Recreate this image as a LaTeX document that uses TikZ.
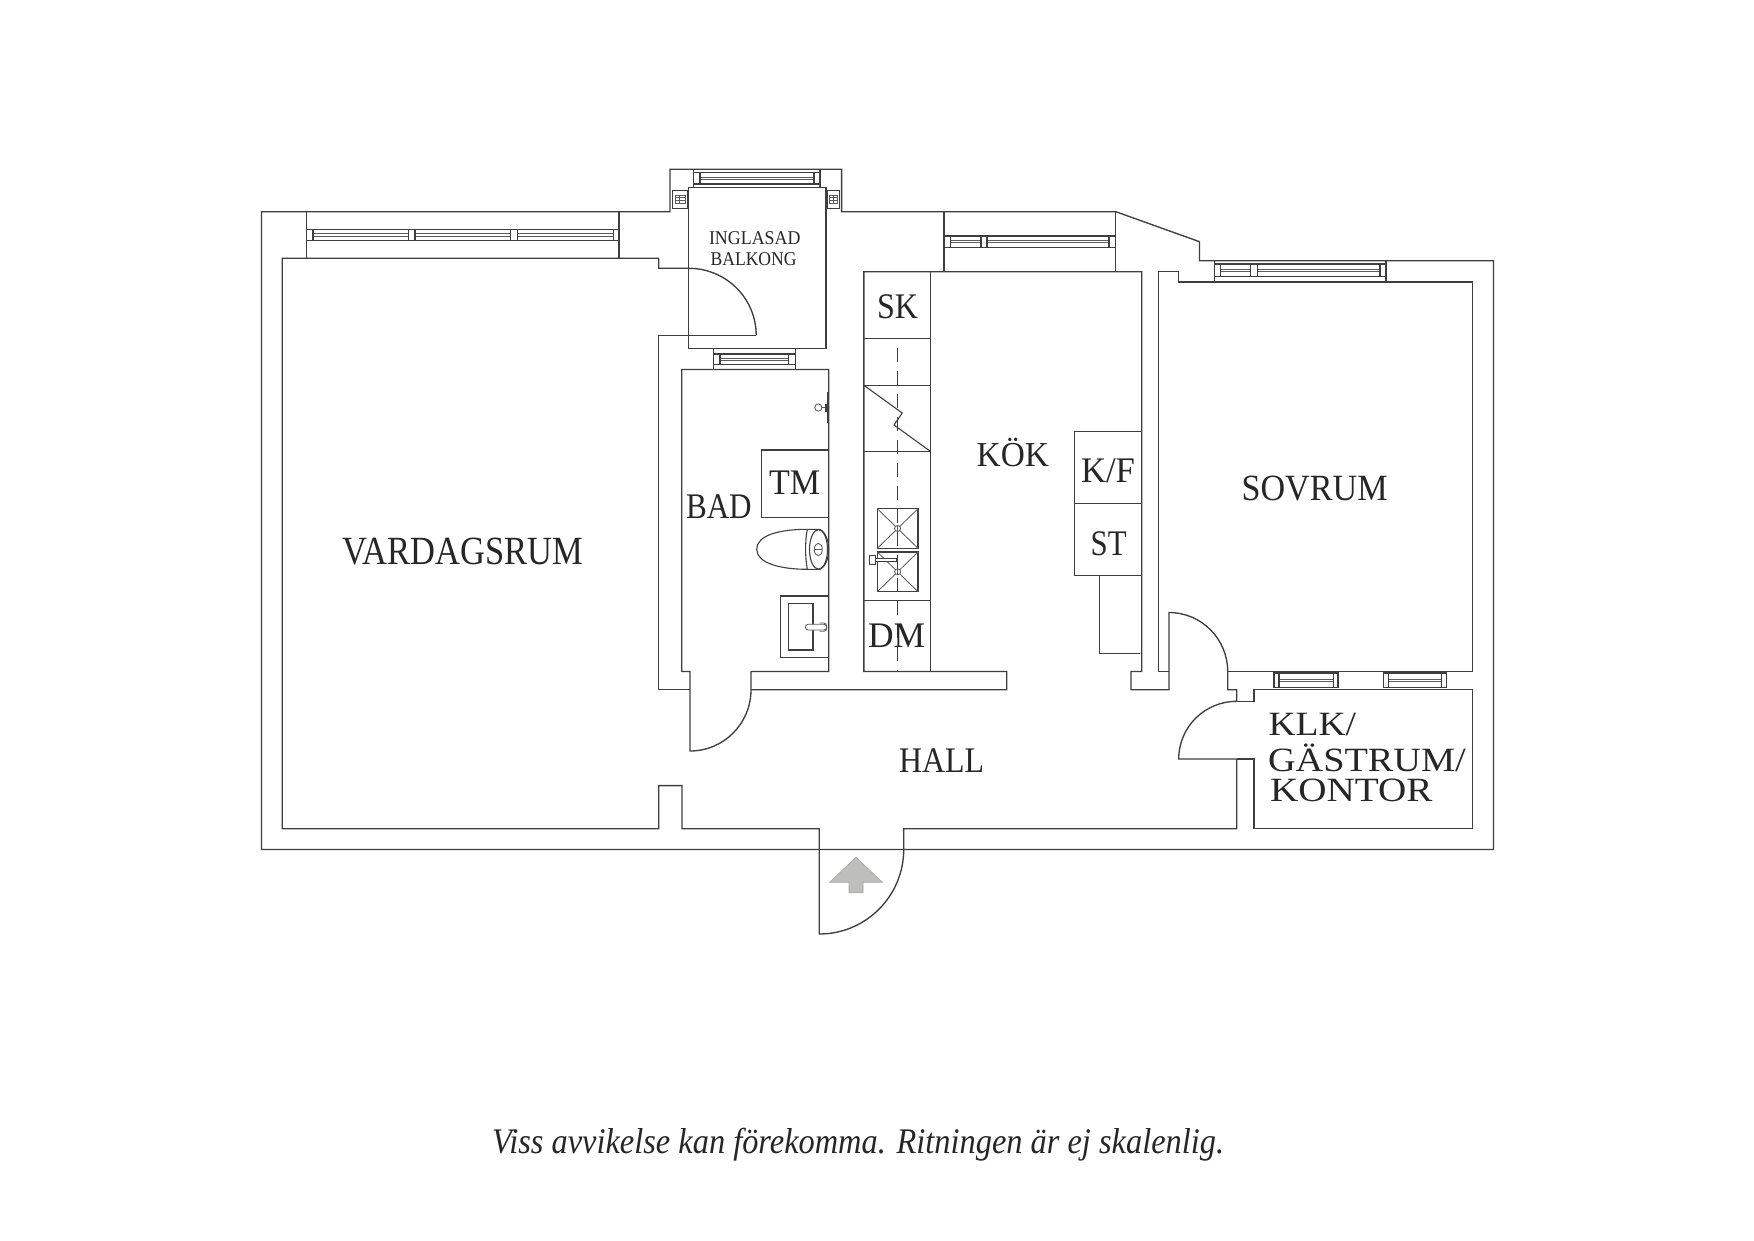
\documentclass[tikz,border=0pt]{standalone}
\usepackage{graphicx}
\usepackage{fontspec}
\setmainfont{Liberation Serif}
\tikzset{
  wall/.style={draw=wallc,line width=1.35pt,line join=miter},
  fix/.style={draw=wallc,line width=1.1pt,line join=miter},
  thin fix/.style={draw=wallc!85,line width=.85pt},
  labelnode/.style={anchor=base west,inner sep=0pt,outer sep=0pt,text=black!85}
}
\definecolor{wallc}{HTML}{3F3F3F}
\definecolor{arrowc}{HTML}{BEBEBC}
\newcommand{\lab}[6]{\node[labelnode] (#1) at (#2,#3) {\fontsize{#5}{#5}\selectfont\resizebox{#4pt}{\height}{#6}};}
% horizontal window band: x0 x1 ytop ybot
\newcommand{\hwin}[4]{%
  \draw[fix] (#1,#3) rectangle (#2,#4);
  \pgfmathsetmacro{\ma}{(#3+#4)/2-1.1}\pgfmathsetmacro{\mb}{(#3+#4)/2+1.1}
  \draw[thin fix] (#1,\ma) -- (#2,\ma) (#1,\mb) -- (#2,\mb);}
\newcommand{\mull}[4]{\filldraw[fix,fill=white] (#1,#3) rectangle (#2,#4);}
\begin{document}
\begin{tikzpicture}[x=1pt,y=-1pt]
\path[use as bounding box,fill=white] (0,0) rectangle (1754,1240);
% outer shell
\draw[wall] (261.5,211.7) -- (670,211.7) -- (670,169.3) -- (841.6,169.3) -- (841.6,211.7) -- (1115.8,211.7) -- (1199.5,241.7) -- (1199.5,260.7) -- (1493.5,260.7) -- (1493.5,849.5) -- (261.5,849.5) -- cycle;
% living room, hall, bedroom, kitchen outline
\draw[wall] (756.2,335.4) -- (658.8,335.4) -- (658.8,689.7) -- (690,689.7);
\draw[wall] (658.8,258.3) -- (658.8,268.3) -- (688.7,268.3) .. controls (726,268.3) and (756.2,298.2) .. (756.2,335.4);
\draw[wall] (658.8,258.3) -- (282.3,258.3) -- (282.3,828.8) -- (658.7,828.8) -- (658.7,785.6) -- (682,785.6) -- (682,828.8) -- (819.3,828.8) -- (819.3,934)
   .. controls (865.9,934) and (903.7,896) .. (903.7,849.5) -- (903.7,828.8) -- (1236.7,828.8) -- (1236.7,759) -- (1178.7,759)
   .. controls (1178.7,727) and (1204.7,701.3) .. (1236.7,701.3) -- (1236.7,689.7) -- (1227.7,689.7) -- (1227.7,671.5)
   .. controls (1227.7,639) and (1201.4,612.5) .. (1169,612.5) -- (1169,689.7) -- (1131,689.7) -- (1131,671.5) -- (1141.7,671.5) -- (1141.7,271.7) -- (863.9,271.7) -- (863.9,671.5) -- (1006.7,671.5) -- (1006.7,689.7) -- (751,689.7);
% bathroom door and room
\draw[wall] (751,689.7) -- (751,671.5) -- (828.7,671.5) -- (828.7,369.5) -- (681.7,369.5) -- (681.7,671.5) -- (690,671.5) -- (690,751)
   .. controls (723.7,751) and (751,723.5) .. (751,689.7);
% bedroom
\draw[wall] (1169,671.5) -- (1158.7,671.5) -- (1158.7,271.7) -- (1178.3,271.7) -- (1178.3,282) -- (1472.7,282) -- (1472.7,671.5) -- (1227.7,671.5);
% small room
\draw[wall] (1236.7,701.3) -- (1254,701.3) -- (1254,689.7) -- (1472.5,689.7) -- (1472.5,828.5) -- (1254,828.5) -- (1254,759) -- (1236.7,759);
% balcony
\draw[wall] (688.5,211.7) -- (688.5,187.3) -- (826,187.3) -- (826,211.7);
\draw[wall] (688.5,211.7) -- (688.5,348.7) -- (826,348.7) -- (826,211.7);
% reveal lines
\draw[fix] (306.4,211.7) -- (306.4,258.3) (619,211.7) -- (619,258.3);
\draw[fix] (944,211.7) -- (944,271.7) (1115.8,211.7) -- (1115.8,271.7);
\draw[fix] (1214.3,260.7) -- (1214.3,282) (1386,260.7) -- (1386,282);
\draw[fix] (693.5,169.3) -- (693.5,187.3) (820,169.3) -- (820,187.3);
\draw[fix] (713.4,348.7) -- (713.4,369.5) (795.3,348.7) -- (795.3,369.5);
% windows
\hwin{306.4}{619}{229.3}{240.7}
\mull{306.4}{313}{229.3}{240.7}\mull{408.4}{415}{229.3}{240.7}\mull{510.8}{517.4}{229.3}{240.7}\mull{613.2}{619}{229.3}{240.7}
\hwin{944.5}{1115.4}{236}{247.3}
\mull{944.5}{950.6}{236}{247.3}\mull{981}{987}{236}{247.3}\mull{1109}{1115.4}{236}{247.3}
\hwin{1214.3}{1386}{264}{276.7}
\mull{1214.3}{1220.8}{264}{276.7}\mull{1250.7}{1257.2}{264}{276.7}\mull{1380}{1386}{264}{276.7}
\hwin{693.5}{820}{172.7}{184}
\mull{693.5}{700}{172.7}{184}\mull{814}{820}{172.7}{184}
\hwin{713.4}{795.3}{354}{364.3}
\mull{713.4}{720}{354}{364.3}\mull{788.5}{795.3}{354}{364.3}
\hwin{1274}{1338}{673}{687.5}
\mull{1274}{1279}{673}{687.5}\mull{1333.5}{1338}{673}{687.5}
\hwin{1383.3}{1446.7}{673}{687.5}
\mull{1383.3}{1388.3}{673}{687.5}\mull{1441.7}{1446.7}{673}{687.5}
% side windows of the balcony
\foreach \xa/\xb/\xc/\xd/\xe in {672.7/687.3/675/685/679.7, 827.3/839.5/829.5/837.5/833.3}{
  \draw[fix] (\xa,190.7) rectangle (\xb,208.3);
  \draw[thin fix] (\xc,195) rectangle (\xd,203.3);
  \draw[thin fix] (\xc,197.7) -- (\xd,197.7) (\xc,200.7) -- (\xd,200.7) (\xe,195) -- (\xe,203.3);
}
% kitchen counter
\draw[fix] (930.8,271.7) -- (930.8,671.5);
\draw[fix] (863.9,338.3) -- (930.8,338.3) (863.9,385.3) -- (930.8,385.3) (863.9,451.7) -- (930.8,451.7) (863.9,600.5) -- (930.8,600.5);
\draw[fix] (864.2,385.5) -- (902.2,413) -- (894,425) -- (930.6,451.5);
\draw[fix,dash pattern=on 14pt off 9pt] (897.3,348.3) -- (897.3,671.5);
% hob
\foreach \ya/\yb/\yc in {508.7/548.3/528.5,552/591.7/571.8}{
  \draw[fix] (877.3,\ya) rectangle (918,\yb);
  \draw[thin fix] (877.3,\ya) -- (918,\yb) (918,\ya) -- (877.3,\yb);
  \filldraw[thin fix,fill=white] (897.6,\yc) circle[radius=3pt];
  \draw[thin fix] (897.6,\yc-3) -- (897.6,\yc+3);
}
% kitchen tap
\filldraw[fix,fill=white] (869.3,555.5) rectangle (875.5,564.5);
\filldraw[fix,fill=white] (875.5,558.3) rectangle (897,561.3);
% fridge, oven, recess
\draw[fix] (1074.3,431.3) rectangle (1141.7,575.7) (1074.3,503.3) -- (1141.7,503.3);
\draw[fix] (1099.7,575.7) -- (1099.7,653.5) -- (1140,653.5);
% washer box
\draw[fix] (828.7,450) -- (761.7,450) -- (761.7,517.3) -- (828.7,517.3);
% toilet
\draw[fix] (807.3,529.3) .. controls (780,529.3) and (756.7,535) .. (756.7,549.3) .. controls (756.7,563) and (780,569.3) .. (807.3,569.3) .. controls (805,556) and (805,542) .. (807.3,529.3);
\draw[fix] (807.3,529.3) -- (820,529.3) .. controls (825,532) and (828.7,540) .. (828.7,549.3) .. controls (828.7,559) and (825,567) .. (820,569.3) -- (807.3,569.3);
\draw[fix] (818.5,549.4) ellipse[x radius=9pt,y radius=19.8pt];
\draw[thin fix] (818.3,549.5) ellipse[x radius=4pt,y radius=6.2pt];
\draw[thin fix] (814.3,549.5) -- (822.3,549.5);
% basin
\draw[fix] (828.7,596) -- (780.3,596) -- (780.3,657.7) -- (828.7,657.7);
\draw[fix] (788.3,603.7) rectangle (813,650);
\filldraw[thin fix,fill=white,rounded corners=2.5pt] (805.5,624.3) rectangle (826.5,630);
\draw[thin fix,rounded corners=3pt] (819.5,623) -- (826.8,623) -- (826.8,631.3) -- (819.5,631.3);
% towel hook
\draw[line width=1.6pt,draw=wallc] (827.4,391.7) -- (827.4,422.7);
\draw[thin fix] (818.3,407.5) circle[radius=3.6pt] (821.9,407.5) -- (827,407.5);
\draw[line width=2pt,draw=wallc] (825.5,403.5) -- (825.5,411.5);
% entrance arrow
\filldraw[draw=black!35,line width=.6pt,fill=arrowc] (856,857.2) -- (882.3,882.2) -- (863,882.2) -- (863,892.8) -- (849,892.8) -- (849,882.2) -- (829.7,882.2) -- cycle;
% labels
\lab{vardagsrum}{342}{564}{241}{40}{VARDAGSRUM}
\lab{inglasad}{709}{244.3}{91.5}{19.5}{INGLASAD}
\lab{balkong}{710.6}{265}{86}{19.5}{BALKONG}
\lab{sk}{877}{318.7}{41}{36}{SK}
\lab{kok}{976.7}{466.7}{72.3}{35}{KÖK}
\lab{kf}{1081}{482.7}{54}{36}{K/F}
\lab{st}{1090.7}{555}{36}{36}{ST}
\lab{sovrum}{1241.6}{500}{146}{37}{SOVRUM}
\lab{tm}{769}{494.3}{51}{36}{TM}
\lab{bad}{686}{518}{65.7}{36}{BAD}
\lab{dm}{868}{647}{57}{36}{DM}
\lab{hall}{899}{772.7}{85}{36}{HALL}
\lab{klk}{1268.5}{735.5}{87.5}{34}{KLK/}
\lab{gastrum}{1268}{771.5}{197.7}{34}{GÄSTRUM/}
\lab{kontor}{1270}{801.5}{162.5}{34}{KONTOR}
\lab{foot}{492}{1153}{732}{36}{\itshape Viss avvikelse kan förekomma. Ritningen är ej skalenlig.}
\end{tikzpicture}
\end{document}
